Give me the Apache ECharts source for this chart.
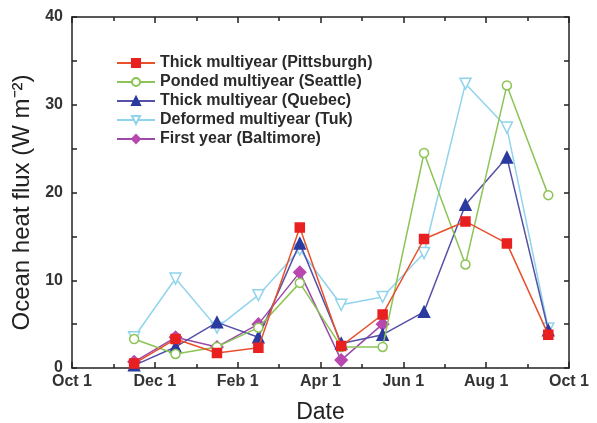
<!DOCTYPE html>
<html>
<head>
<meta charset="utf-8">
<script src="https://cdn.jsdelivr.net/npm/echarts@6/dist/echarts.min.js"></script>
<style>html,body{margin:0;padding:0;background:#fff}#c{width:597px;height:423px}</style>
</head>
<body>
<div id="c"></div>
<script>
// Months since Oct 1 (mid-month sampling dates)
const months = [1.5, 2.5, 3.5, 4.5, 5.5, 6.5, 7.5, 8.5, 9.5, 10.5, 11.5];
const tickLabels = {0: 'Oct 1', 2: 'Dec 1', 4: 'Feb 1', 6: 'Apr 1', 8: 'Jun 1', 10: 'Aug 1', 12: 'Oct 1'};
const seriesNames = ['Thick multiyear (Pittsburgh)', 'Ponded multiyear (Seattle)', 'Thick multiyear (Quebec)', 'Deformed multiyear (Tuk)', 'First year (Baltimore)'];
const pittsburgh = [0.5, 3.3, 1.7, 2.3, 16.0, 2.5, 6.1, 14.7, 16.7, 14.2, 3.8];
const seattle    = [3.3, 1.6, 2.4, 4.6, 9.7, 2.4, 2.4, 24.5, 11.8, 32.2, 19.7];
const quebec     = [0.3, 2.4, 5.2, 3.5, 14.2, 2.8, 3.8, 6.4, 18.6, 24.0, 4.3];
const tuk        = [3.5, 10.2, 4.6, 8.3, 13.5, 7.2, 8.1, 13.1, 32.4, 27.4, 4.5];
const baltimore  = [0.7, 3.5, 2.4, 5.0, 10.9, 0.9, 5.0];

function pairs(vals) { return vals.map((v, i) => [months[i], v]); }

const chart = echarts.init(document.getElementById('c'));
const axisCol = '#222';
const FONT = 'Liberation Sans, Arial, sans-serif';
const styles = [
  {line: '#e8502c', sym: 'rect', fill: '#e82020', border: '#e82020', size: 9},
  {line: '#8cc455', sym: 'circle', fill: '#ffffff', border: '#8cc455', size: 9},
  {line: '#5550a8', sym: 'triangle', fill: '#2a3a9e', border: '#2a3a9e', size: 11},
  {line: '#90d4ec', sym: 'path://M0,0 L10,0 L5,10 Z', fill: '#ffffff', border: '#90d4ec', size: 11},
  {line: '#9a4aa8', sym: 'diamond', fill: '#b848b0', border: '#b848b0', size: 12}
];
const data = [pittsburgh, seattle, quebec, tuk, baltimore];

const xBase = {
  type: 'value', min: 0, max: 12, interval: 2,
  axisLine: {show: true, onZero: false, lineStyle: {color: axisCol, width: 1.5}},
  axisTick: {show: true, inside: true, length: 6, lineStyle: {color: axisCol, width: 1.5}},
  minorTick: {show: true, splitNumber: 2, length: 4, lineStyle: {color: axisCol, width: 1.5}},
  splitLine: {show: false}, minorSplitLine: {show: false}
};
const yBase = {
  type: 'value', min: 0, max: 40, interval: 10,
  axisLine: {show: true, onZero: false, lineStyle: {color: axisCol, width: 1.5}},
  axisTick: {show: true, inside: true, length: 5, lineStyle: {color: axisCol, width: 1.5}},
  minorTick: {show: true, splitNumber: 2, length: 5, lineStyle: {color: axisCol, width: 1.5}},
  splitLine: {show: false}, minorSplitLine: {show: false}
};

chart.setOption({
  animation: false,
  backgroundColor: '#fff',
  grid: {left: 72, right: 28, top: 17, bottom: 55, containLabel: false, outerBoundsMode: 'none'},
  legend: {
    orient: 'vertical', left: 111, top: 50,
    itemWidth: 38, itemHeight: 10, itemGap: 3,
    textStyle: {fontFamily: FONT, fontSize: 16, fontWeight: 'bold', color: '#2a2a2a'},
    data: seriesNames
  },
  xAxis: [
    Object.assign({}, xBase, {
      position: 'bottom',
      name: 'Date', nameLocation: 'middle', nameGap: 33,
      nameTextStyle: {fontFamily: FONT, fontSize: 23, color: '#222'},
      axisLabel: {show: true, margin: 6, fontFamily: FONT, fontSize: 16, fontWeight: 'bold', color: '#333',
        formatter: v => tickLabels[v] || ''}
    }),
    Object.assign({}, xBase, {position: 'top', axisLabel: {show: false}})
  ],
  yAxis: [
    Object.assign({}, yBase, {
      position: 'left',
      name: 'Ocean heat flux (W m\u207B\u00B2)', nameLocation: 'middle', nameGap: 38,
      nameTextStyle: {fontFamily: FONT, fontSize: 24, color: '#222', padding: [0, 20, 0, 0]},
      axisLabel: {show: true, margin: 9, fontFamily: FONT, fontSize: 16, fontWeight: 'bold', color: '#333'}
    }),
    Object.assign({}, yBase, {position: 'right', axisLabel: {show: false}})
  ],
  series: data.map((vals, i) => ({
    name: seriesNames[i], type: 'line', xAxisIndex: 0, yAxisIndex: 0,
    data: pairs(vals),
    symbol: styles[i].sym, symbolSize: styles[i].size,
    lineStyle: {color: styles[i].line, width: 1.5},
    itemStyle: {color: styles[i].fill, borderColor: styles[i].border, borderWidth: 1.5},
    z: 10 - i
  }))
});
</script>
</body>
</html>
